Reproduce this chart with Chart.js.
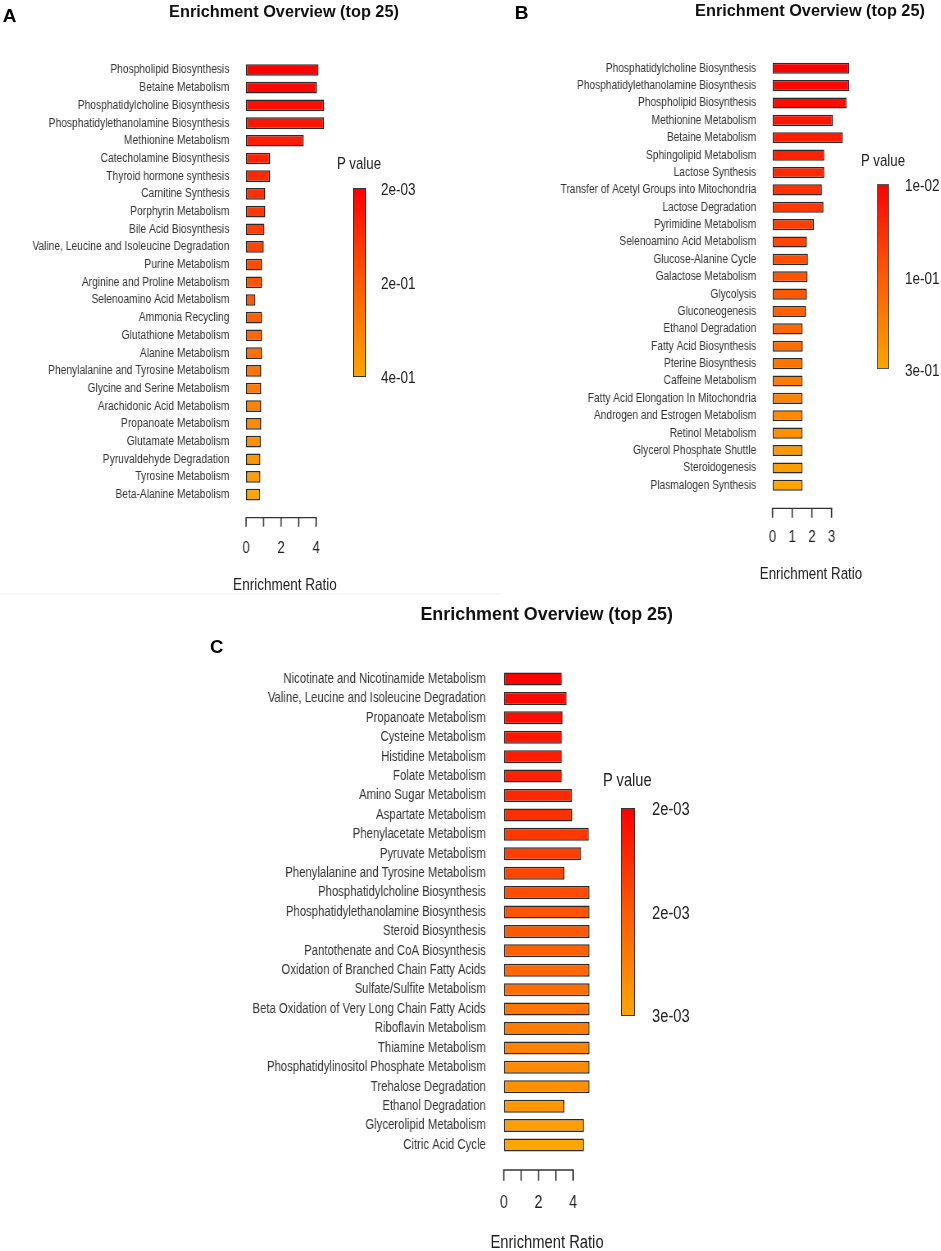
<!DOCTYPE html>
<html><head><meta charset="utf-8">
<script src="https://cdn.jsdelivr.net/npm/chart.js@4.4.1/dist/chart.umd.min.js"></script>
<style>
html,body{margin:0;padding:0;background:#fff;overflow:hidden;}
body{width:941px;height:1251px;position:relative;font-family:"Liberation Sans",Arial,sans-serif;color:#222;}
.t{position:absolute;white-space:nowrap;line-height:1;}
.c{transform:translate(-50%,-50%);}
.cn{transform:translate(-50%,-50%) scaleX(0.82);}
.ln{transform:translate(0,-50%) scaleX(0.82);transform-origin:0 50%;}
.title{font-weight:bold;color:#111;}
.letter{font-weight:bold;color:#000;}
.bar{position:absolute;box-sizing:border-box;border:1px solid #333;background:linear-gradient(to bottom,#ff0000,#ff5a00 50%,#ffa500);}
canvas{position:absolute;}
</style></head><body>

<canvas id="cA" width="573" height="600" style="left:0;top:0;width:470px;height:600px"></canvas>
<canvas id="cB" width="574" height="600" style="left:470px;top:0;width:471px;height:600px"></canvas>
<canvas id="cC" width="1148" height="651" style="left:0;top:600px;width:941px;height:651px"></canvas>

<div style="position:absolute;left:0;top:593px;width:500px;height:2px;background:#f5f5f5"></div>

<div class="t c letter" style="left:9.7px;top:15px;font-size:19px">A</div>
<div class="t c title" style="left:284px;top:10.5px;font-size:16.3px">Enrichment Overview (top 25)</div>
<div class="t ln" style="left:336.7px;top:162.5px;font-size:16.2px">P value</div>
<div class="bar" style="left:352.7px;top:187.7px;width:13px;height:189px"></div>
<div id="pA"></div>
<div class="t cn xt" style="left:284.7px;top:584px;font-size:16.5px"></div>

<div class="t c letter" style="left:521.7px;top:12px;font-size:19px">B</div>
<div class="t c title" style="left:810px;top:9.7px;font-size:16.3px">Enrichment Overview (top 25)</div>
<div class="t ln" style="left:860.7px;top:159.5px;font-size:16.2px">P value</div>
<div class="bar" style="left:877.3px;top:184px;width:12px;height:185.3px;border-color:#555"></div>
<div id="pB"></div>
<div class="t cn xt" style="left:810.5px;top:572.7px;font-size:16.3px"></div>

<div class="t c letter" style="left:216.7px;top:646.7px;font-size:18.6px">C</div>
<div class="t c title" style="left:546.7px;top:614.5px;font-size:17.9px">Enrichment Overview (top 25)</div>
<div class="t ln" style="left:603px;top:781px;font-size:17.9px">P value</div>
<div class="bar" style="left:621px;top:808px;width:14px;height:207.7px"></div>
<div id="pC"></div>
<div class="t cn xt" style="left:546.7px;top:1241.7px;font-size:18px"></div>

<script>
// ---------- data ----------
const catsA = ["Phospholipid Biosynthesis","Betaine Metabolism","Phosphatidylcholine Biosynthesis","Phosphatidylethanolamine Biosynthesis","Methionine Metabolism","Catecholamine Biosynthesis","Thyroid hormone synthesis","Carnitine Synthesis","Porphyrin Metabolism","Bile Acid Biosynthesis","Valine, Leucine and Isoleucine Degradation","Purine Metabolism","Arginine and Proline Metabolism","Selenoamino Acid Metabolism","Ammonia Recycling","Glutathione Metabolism","Alanine Metabolism","Phenylalanine and Tyrosine Metabolism","Glycine and Serine Metabolism","Arachidonic Acid Metabolism","Propanoate Metabolism","Glutamate Metabolism","Pyruvaldehyde Degradation","Tyrosine Metabolism","Beta-Alanine Metabolism"];
const ratioA = [4.13,4.04,4.46,4.46,3.28,1.37,1.37,1.10,1.10,1.05,1.01,0.91,0.91,0.53,0.91,0.91,0.91,0.87,0.87,0.87,0.87,0.84,0.82,0.82,0.80];

const catsB = ["Phosphatidylcholine Biosynthesis","Phosphatidylethanolamine Biosynthesis","Phospholipid Biosynthesis","Methionine Metabolism","Betaine Metabolism","Sphingolipid Metabolism","Lactose Synthesis","Transfer of Acetyl Groups into Mitochondria","Lactose Degradation","Pyrimidine Metabolism","Selenoamino Acid Metabolism","Glucose-Alanine Cycle","Galactose Metabolism","Glycolysis","Gluconeogenesis","Ethanol Degradation","Fatty Acid Biosynthesis","Pterine Biosynthesis","Caffeine Metabolism","Fatty Acid Elongation In Mitochondria","Androgen and Estrogen Metabolism","Retinol Metabolism","Glycerol Phosphate Shuttle","Steroidogenesis","Plasmalogen Synthesis"];
const ratioB = [3.90,3.90,3.76,3.07,3.56,2.63,2.63,2.51,2.59,2.10,1.75,1.80,1.78,1.75,1.70,1.53,1.54,1.52,1.52,1.52,1.52,1.52,1.52,1.52,1.52];

const catsC = ["Nicotinate and Nicotinamide Metabolism","Valine, Leucine and Isoleucine Degradation","Propanoate Metabolism","Cysteine Metabolism","Histidine Metabolism","Folate Metabolism","Amino Sugar Metabolism","Aspartate Metabolism","Phenylacetate Metabolism","Pyruvate Metabolism","Phenylalanine and Tyrosine Metabolism","Phosphatidylcholine Biosynthesis","Phosphatidylethanolamine Biosynthesis","Steroid Biosynthesis","Pantothenate and CoA Biosynthesis","Oxidation of Branched Chain Fatty Acids","Sulfate/Sulfite Metabolism","Beta Oxidation of Very Long Chain Fatty Acids","Riboflavin Metabolism","Thiamine Metabolism","Phosphatidylinositol Phosphate Metabolism","Trehalose Degradation","Ethanol Degradation","Glycerolipid Metabolism","Citric Acid Cycle"];
const ratioC = [3.35,3.62,3.40,3.35,3.35,3.35,3.94,3.96,4.90,4.46,3.50,4.94,4.94,4.94,4.94,4.94,4.94,4.94,4.94,4.94,4.94,4.94,3.50,4.62,4.62];

const ticksA = [0,1,2,3,4];
const tickLabelsA = ["0","","2","","4"];
const ticksB = [0,1,2,3];
const tickLabelsB = ["0","1","2","3"];
const ticksC = [0,1,2,3,4];
const tickLabelsC = ["0","","2","","4"];

const pLabelsA = ["2e-03","2e-01","4e-01"];
const pLabelsB = ["1e-02","1e-01","3e-01"];
const pLabelsC = ["2e-03","2e-03","3e-03"];
const xTitle = "Enrichment Ratio";

// ---------- text helpers ----------
document.querySelectorAll('.xt').forEach(d => { d.textContent = xTitle; });
function legendLabels(id, labels, left, ys, size) {
  const host = document.getElementById(id);
  labels.forEach((s, i) => {
    const d = document.createElement('div');
    d.className = 't ln';
    d.style.left = left + 'px'; d.style.top = ys[i] + 'px'; d.style.fontSize = size + 'px';
    d.textContent = s;
    host.appendChild(d);
  });
}
legendLabels('pA', pLabelsA, 381, [188.5, 282.5, 377.2], 16.5);
legendLabels('pB', pLabelsB, 905, [184.8, 277.5, 370], 16.5);
legendLabels('pC', pLabelsC, 652, [808.7, 912.8, 1015.8], 18);

// ---------- charts ----------
const S = 0.82; // horizontal squeeze of the canvases (narrow lettering)
const FONT = '"Liberation Sans",Arial,sans-serif';

const bracketPlugin = {
  id: 'bracket',
  afterDraw(chart, args, o) {
    const xs = chart.scales.x, ctx = chart.ctx;
    const y0 = chart.chartArea.bottom + o.gap;
    const px = o.ticks.map(v => xs.getPixelForValue(v));
    ctx.save();
    ctx.strokeStyle = '#333';
    ctx.lineWidth = 1.3;
    ctx.beginPath();
    ctx.moveTo(px[0] - 0.7, y0); ctx.lineTo(px[px.length - 1] + 0.7, y0);
    ctx.stroke();
    ctx.lineWidth = 1.6;
    ctx.beginPath();
    px.forEach(p => { ctx.moveTo(p, y0); ctx.lineTo(p, y0 + o.len); });
    ctx.stroke();
    ctx.restore();
  }
};

function makeChart(id, cats, vals, ticks, tickLabels, cfg) {
  const canvas = document.getElementById(id);
  const Wi = canvas.width;
  const n = cats.length;
  const colors = cats.map((_, i) => 'rgb(255,' + Math.round(165 * i / (n - 1)) + ',0)');
  const xMax = Math.max(...vals);
  const yw = (cfg.zeroX - cfg.L) / S;
  const rightEdge = (cfg.zeroX - cfg.L + cfg.ppu * xMax) / S;
  return new Chart(canvas, {
    type: 'bar',
    data: { labels: cats, datasets: [{ data: vals, backgroundColor: colors, borderColor: '#2a2a2a', borderWidth: 1.5, borderSkipped: false, categoryPercentage: 1, barPercentage: cfg.barPct }] },
    options: {
      indexAxis: 'y', responsive: false, animation: false, devicePixelRatio: 1,
      layout: { padding: { left: 0, top: cfg.top, right: Wi - rightEdge, bottom: 0 } },
      plugins: { legend: { display: false }, tooltip: { enabled: false }, bracket: { gap: cfg.gap, len: cfg.len, ticks: ticks } },
      scales: {
        x: {
          type: 'linear', min: 0, max: xMax, position: 'bottom',
          grid: { display: false, drawTicks: false }, border: { display: false },
          afterBuildTicks: s => { s.ticks = ticks.map(v => ({ value: v })); },
          afterFit: s => { s.height = cfg.xh; },
          ticks: { padding: cfg.tp, color: '#222', autoSkip: false, maxRotation: 0,
                   font: { family: FONT, size: cfg.tickSize },
                   callback: (v) => tickLabels[ticks.indexOf(v)] }
        },
        y: {
          grid: { display: false, drawTicks: false }, border: { display: false },
          afterFit: s => { s.width = yw; },
          ticks: { padding: cfg.yp / S, color: '#333', autoSkip: false, font: { family: FONT, size: cfg.labelSize } }
        }
      }
    },
    plugins: [bracketPlugin]
  });
}

makeChart('cA', catsA, ratioA, ticksA, tickLabelsA, {
  L: 0, zeroX: 246, ppu: 17.5, top: 61.15, xh: 96.5, barPct: 0.66,
  tp: 35.2, tickSize: 16, yp: 16.7, labelSize: 12.5, gap: 14.2, len: 9
});
makeChart('cB', catsB, ratioB, ticksB, tickLabelsB, {
  L: 470, zeroX: 772.3, ppu: 19.67, top: 59.6, xh: 106, barPct: 0.64,
  tp: 34.3, tickSize: 16, yp: 16.3, labelSize: 12.4, gap: 14.3, len: 9.4
});
makeChart('cC', catsC, ratioC, ticksC, tickLabelsC, {
  L: 0, zeroX: 504, ppu: 17.33, top: 69.3, xh: 96.3, barPct: 0.67,
  tp: 38.1, tickSize: 17.5, yp: 18, labelSize: 13.85, gap: 15.3, len: 10.7
});
</script>
</body></html>
